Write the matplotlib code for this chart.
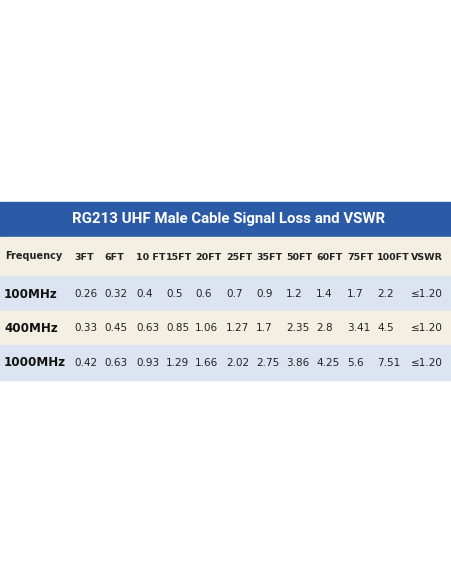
import matplotlib
matplotlib.use("Agg")
import matplotlib.pyplot as plt
from matplotlib.patches import Rectangle

title = "RG213 UHF Male Cable Signal Loss and VSWR"
columns = ["3FT", "6FT", "10 FT", "15FT", "20FT", "25FT", "35FT", "50FT", "60FT", "75FT", "100FT", "VSWR"]
rows = ["100MHz", "400MHz", "1000MHz"]
loss_100 = ["0.26", "0.32", "0.4", "0.5", "0.6", "0.7", "0.9", "1.2", "1.4", "1.7", "2.2", "≤1.20"]
loss_400 = ["0.33", "0.45", "0.63", "0.85", "1.06", "1.27", "1.7", "2.35", "2.8", "3.41", "4.5", "≤1.20"]
loss_1000 = ["0.42", "0.63", "0.93", "1.29", "1.66", "2.02", "2.75", "3.86", "4.25", "5.6", "7.51", "≤1.20"]
data = [loss_100, loss_400, loss_1000]

col_x = [74, 104, 136, 166, 195, 226, 256, 286, 316, 347, 377, 411]

fig = plt.figure(figsize=(4.52, 5.84), dpi=100)
ax = fig.add_axes([0, 0, 1, 1])
ax.set_xlim(0, 452)
ax.set_ylim(584, 0)
ax.axis("off")

blue = "#2b5ba6"
cream = "#f3efe2"
lblue = "#dde4f1"

ax.add_patch(Rectangle((0, 202), 452, 35, color=blue))
ax.text(229, 219.5, title, ha="center", va="center", color="white", fontsize=10.8,
        fontweight="bold", family="Roboto")

bands = [(237, 276, cream), (276, 311, lblue), (311, 345, cream), (345, 380, lblue)]
for y0, y1, c in bands:
    ax.add_patch(Rectangle((0, y0), 452, y1 - y0, color=c))

ax.text(5, 256, "Frequency", ha="left", va="center", fontsize=7, fontweight="bold", color="#222222")
for x, c in zip(col_x, columns):
    ax.text(x, 258, c, ha="left", va="center", fontsize=6.8, fontweight="bold", color="#222222")

row_y = [294, 328, 363]
for y, r, vals in zip(row_y, rows, data):
    ax.text(4, y, r, ha="left", va="center", fontsize=8.6, fontweight="bold", color="#111111")
    for x, v in zip(col_x, vals):
        ax.text(x, y, v, ha="left", va="center", fontsize=7.5, color="#222222",
                family=["DejaVu Sans"])

fig.savefig("out.png", dpi=100)
